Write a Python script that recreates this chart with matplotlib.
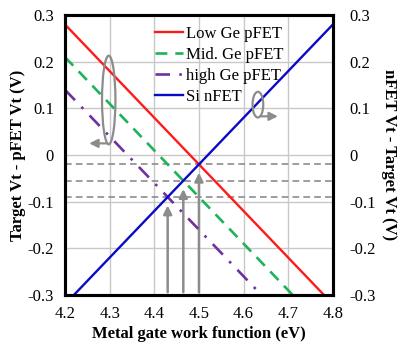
import matplotlib
matplotlib.use("Agg")
import matplotlib.pyplot as plt
from matplotlib.patches import Ellipse

plt.rcParams["font.family"] = ["Liberation Serif", "DejaVu Serif"]

GRAY = "#8c8c8c"

# work function (eV) end points of each line, and Vt offsets (V)
low_ge_wf = [4.20, 4.78]
low_ge_vt = [0.28, -0.30]
mid_ge_wf = [4.20, 4.71]
mid_ge_vt = [0.21, -0.30]
high_ge_wf = [4.20, 4.64]
high_ge_vt = [0.14, -0.30]
si_wf = [4.22, 4.80]
si_vt = [-0.30, 0.28]

# matched-Vt crossings (pFET line meets nFET line)
cross_wf = [4.43, 4.465, 4.50]
cross_vt = [-0.09, -0.055, -0.02]

xticks = [4.2, 4.3, 4.4, 4.5, 4.6, 4.7, 4.8]
yticks = [-0.3, -0.2, -0.1, 0, 0.1, 0.2, 0.3]
ytick_labels = ["-0.3", "-0.2", "-0.1", "0", "0.1", "0.2", "0.3"]

fig = plt.figure(figsize=(4.06, 3.43), dpi=100)
ax = fig.add_axes([0.160, 0.140, 0.660, 0.816])

ax.plot(low_ge_wf, low_ge_vt, color="#ff1a1a", lw=1.7, label="Low Ge pFET", zorder=4)
ax.plot(mid_ge_wf, mid_ge_vt, color="#1db35a", lw=1.9, ls=(0, (4.5, 3)), label="Mid. Ge pFET", zorder=4)
ax.plot(high_ge_wf, high_ge_vt, color="#7030a0", lw=1.9, ls=(0, (5.5, 3.5, 1, 3.5)), label="high Ge pFET", zorder=4)
ax.plot(si_wf, si_vt, color="#0a0ac8", lw=1.7, label="Si nFET", zorder=4)

for wf, vt in zip(cross_wf, cross_vt):
    ax.axhline(vt, color=GRAY, lw=1.2, ls=(0, (4, 2.5)), zorder=3)
    ax.annotate("", xy=(wf, vt - 0.012), xytext=(wf, -0.3),
                arrowprops=dict(arrowstyle="-|>,head_length=0.5,head_width=0.25",
                                color=GRAY, lw=1.8), zorder=3)

# ellipses marking which axis each group of curves belongs to
ax.add_patch(Ellipse((4.298, 0.118), 0.03, 0.19, fill=False, ec=GRAY, lw=1.6, zorder=5))
ax.annotate("", xy=(4.248, 0.025), xytext=(4.30, 0.025),
            arrowprops=dict(arrowstyle="-|>,head_length=0.5,head_width=0.25", color=GRAY, lw=1.6))
ax.add_patch(Ellipse((4.632, 0.108), 0.024, 0.055, fill=False, ec=GRAY, lw=1.6, zorder=5))
ax.annotate("", xy=(4.683, 0.083), xytext=(4.632, 0.083),
            arrowprops=dict(arrowstyle="-|>,head_length=0.5,head_width=0.25", color=GRAY, lw=1.6))

ax.set_xlim(4.2, 4.8)
ax.set_ylim(-0.3, 0.3)
ax.set_xticks(xticks)
ax.set_yticks(yticks)
ax.set_xticklabels([f"{t:.1f}" for t in xticks])
ax.set_yticklabels(ytick_labels)
ax.grid(True, color="#c8c8c8", lw=1.0)
ax.set_axisbelow(True)
ax.tick_params(length=0, labelsize=12, pad=8)
for s in ax.spines.values():
    s.set_linewidth(2.2)

ax.set_xlabel("Metal gate work function (eV)", fontsize=12, fontweight="bold", labelpad=3)
ax.set_ylabel("Target Vt - pFET Vt (V)", fontsize=12, fontweight="bold", labelpad=1)

ax2 = ax.twinx()
ax2.set_ylim(-0.3, 0.3)
ax2.set_yticks(yticks)
ax2.set_yticklabels(ytick_labels)
ax2.tick_params(length=0, labelsize=12, pad=12)
ax2.set_ylabel("nFET Vt - Target Vt (V)", fontsize=12, fontweight="bold",
               rotation=270, labelpad=15)
for s in ax2.spines.values():
    s.set_linewidth(2.2)

ax.legend(loc="upper left", bbox_to_anchor=(0.295, 1.0), frameon=False, fontsize=12,
          handlelength=1.7, handletextpad=0.15, labelspacing=0.3, borderaxespad=0.25)

fig.savefig("out.png", dpi=100)
